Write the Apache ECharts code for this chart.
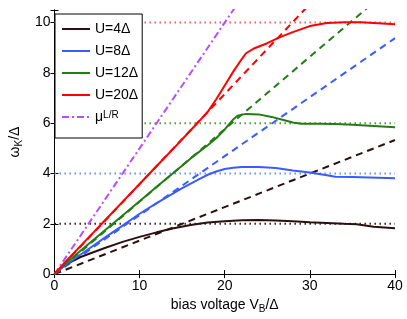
<!DOCTYPE html>
<html><head><meta charset="utf-8">
<script src="https://cdn.jsdelivr.net/npm/echarts@6/dist/echarts.min.js"></script>
<style>html,body{margin:0;padding:0;background:#fff}#c{width:407px;height:319px}</style>
</head><body><div id="c"></div>
<script>
// ---- data ----
const xTicks = [0, 10, 20, 30, 40];
const yTicks = [0, 2, 4, 6, 8, 10];
const legendNames = ['U=4Δ', 'U=8Δ', 'U=12Δ', 'U=20Δ', 'mu'];

const u4X = [0, 1, 2, 3, 4, 6, 8, 10, 12, 14, 16, 18, 20, 22, 24, 26, 28, 30, 32, 34, 35.5, 36.5, 37.5, 40];
const u4Y = [0, 0.3, 0.5, 0.67, 0.8, 1.05, 1.28, 1.48, 1.66, 1.82, 1.95, 2.05, 2.1, 2.14, 2.15, 2.13, 2.1, 2.06, 2.03, 2.0, 1.98, 1.93, 1.88, 1.82];

const u8X = [0, 1, 2, 4, 6, 8, 10, 12, 14, 15, 16, 17, 18, 19, 20, 21, 22, 24, 26, 28, 30, 32, 33, 35, 37, 40];
const u8Y = [0, 0.28, 0.52, 1.0, 1.47, 1.93, 2.4, 2.82, 3.22, 3.42, 3.6, 3.78, 3.95, 4.08, 4.18, 4.23, 4.26, 4.26, 4.22, 4.12, 4.04, 3.93, 3.87, 3.86, 3.84, 3.81];

const u12X = [0, 1, 2, 4, 6, 8, 10, 12, 14, 16, 18, 19, 20, 21, 21.5, 22.5, 24, 25.5, 27, 28, 29, 31, 33, 35, 37, 40];
const u12Y = [0, 0.32, 0.62, 1.2, 1.76, 2.33, 2.9, 3.47, 4.03, 4.6, 5.12, 5.4, 5.75, 6.15, 6.3, 6.37, 6.35, 6.25, 6.12, 6.03, 5.98, 5.98, 5.97, 5.94, 5.9, 5.84];

const u20X = [0, 1, 2, 4, 6, 8, 10, 12, 14, 16, 17, 18, 19, 20, 21, 22, 22.5, 23.5, 25, 26.5, 28, 30, 32, 34, 36, 38, 40];
const u20Y = [0, 0.38, 0.74, 1.45, 2.16, 2.87, 3.58, 4.3, 5.0, 5.72, 6.08, 6.45, 6.95, 7.5, 8.05, 8.55, 8.78, 8.98, 9.18, 9.42, 9.62, 9.86, 9.98, 10.01, 10.01, 9.97, 9.93];

// straight dashed guides (value at V=0 and V=40)
const lineX = [0, 40];
const fit4Y = [0, 5.33];
const fit8Y = [0, 9.38];
const fit12Y = [0, 11.52];
const fit20Y = [0, 14.32];
const muY = [0, 20];

// dotted saturation levels
const levelX = [0, 40];
const level4 = 2, level8 = 4, level12 = 6, level20 = 10;

// ---- build ----
const zip = (xs, ys) => xs.map((x, i) => [x, ys[i]]);
const flat = (xs, v) => xs.map(x => [x, v]);

const cBlack = '#2a1010', cBlue = '#3a5cff', cGreen = '#227d12', cRed = '#ff0000', cPurple = '#b84cff';
const muDash = [7, 3, 2, 3];

function solid(name, data, color) {
  return { name, type: 'line', data, symbol: 'none', lineStyle: { color, width: 2 }, itemStyle: { color }, z: 5 };
}
function dashed(name, data, color, type) {
  return { name, type: 'line', data, symbol: 'none', clip: true, lineStyle: { color, width: 2, type: type || [7, 5] }, itemStyle: { color }, z: 3 };
}
function dotted(name, data, color) {
  return { name, type: 'line', data, symbol: 'none', lineStyle: { color, width: 2, type: [1.5, 3.5] }, itemStyle: { color }, z: 2 };
}

const font = 'Liberation Sans, Arial, sans-serif';
const chart = echarts.init(document.getElementById('c'));
chart.setOption({
  animation: false,
  backgroundColor: '#fff',
  grid: { left: 50, right: 12, top: 10, bottom: 37, containLabel: false },
  legend: {
    data: legendNames.map(n => n === 'mu'
      ? { name: n, lineStyle: { type: muDash, width: 2 } }
      : { name: n }),
    orient: 'vertical', left: 55, top: 14,
    itemWidth: 28, itemHeight: 14, itemGap: 8,
    padding: [8, 4, 14, 6],
    itemStyle: { opacity: 0 },
    lineStyle: { width: 2 },
    backgroundColor: '#fff', borderColor: '#000', borderWidth: 1,
    formatter: n => n === 'mu' ? '{m|μ}{sup|L/R}' : n,
    textStyle: { fontFamily: font, fontSize: 14, color: '#000',
      rich: { m: { fontFamily: font, fontSize: 14, color: '#000', verticalAlign: 'bottom' },
              sup: { fontFamily: font, fontSize: 10, color: '#000', verticalAlign: 'top', lineHeight: 10, padding: [0, 0, 4, 0] } } },
    selectedMode: false
  },
  xAxis: [{
    type: 'value', min: 0, max: 40, interval: 10,
    name: 'bias voltage {s|V}{sub|B}{s|/Δ}', nameLocation: 'middle', nameGap: 11,
    nameTextStyle: { fontFamily: font, fontSize: 14, color: '#000',
      rich: { s: { fontFamily: font, fontSize: 14, color: '#000' }, sub: { fontFamily: font, fontSize: 10, color: '#000', verticalAlign: 'bottom', padding: [8, 0, 0, 0] } } },
    axisLine: { lineStyle: { color: '#000', width: 1 } },
    axisTick: { inside: true, length: 4, lineStyle: { color: '#000' } },
    axisLabel: { fontFamily: font, fontSize: 14, color: '#000', margin: 5, formatter: v => xTicks.includes(v) ? String(v) : '' },
    splitLine: { show: false }
  }, {
    type: 'value', min: 0, max: 40, interval: 10, position: 'top',
    axisLine: { lineStyle: { color: '#000', width: 1 } },
    axisTick: { inside: true, length: 4, lineStyle: { color: '#000' } },
    axisLabel: { show: false }, splitLine: { show: false }
  }],
  yAxis: [{
    type: 'value', min: 0, max: 10.5, interval: 2,
    name: '{w|ω}{sub|K}{w|/Δ}', nameLocation: 'middle', nameGap: 22, nameRotate: 90,
    nameTextStyle: { fontFamily: font, fontSize: 14, color: '#000',
      rich: { w: { fontFamily: font, fontSize: 14, color: '#000' }, sub: { fontFamily: font, fontSize: 10, color: '#000', verticalAlign: 'bottom', padding: [8, 0, 0, 0] } } },
    axisLine: { show: true, lineStyle: { color: '#000', width: 1 } },
    axisTick: { show: true, inside: true, length: 4, lineStyle: { color: '#000' } },
    axisLabel: { fontFamily: font, fontSize: 14, color: '#000', margin: 4, formatter: v => yTicks.includes(v) ? String(v) : '' },
    splitLine: { show: false }
  }, {
    type: 'value', min: 0, max: 10.5, interval: 2, position: 'right',
    axisLine: { show: true, lineStyle: { color: '#000', width: 1 } },
    axisTick: { show: true, inside: true, length: 4, lineStyle: { color: '#000' } },
    axisLabel: { show: false }, splitLine: { show: false }
  }],
  series: [
    dotted('lvl4', flat(levelX, level4), '#3d2020'),
    dotted('lvl8', flat(levelX, level8), '#6f8cff'),
    dotted('lvl12', flat(levelX, level12), '#4c9a3c'),
    dotted('lvl20', flat(levelX, level20), '#ff5a5a'),
    dashed('fit4', zip(lineX, fit4Y), cBlack),
    dashed('fit8', zip(lineX, fit8Y), cBlue),
    dashed('fit12', zip(lineX, fit12Y), cGreen),
    dashed('fit20', zip(lineX, fit20Y), cRed),
    solid('U=4Δ', zip(u4X, u4Y), cBlack),
    solid('U=8Δ', zip(u8X, u8Y), cBlue),
    solid('U=12Δ', zip(u12X, u12Y), cGreen),
    solid('U=20Δ', zip(u20X, u20Y), cRed),
    dashed('mu', zip(lineX, muY), cPurple, muDash)
  ]
});
</script></body></html>
